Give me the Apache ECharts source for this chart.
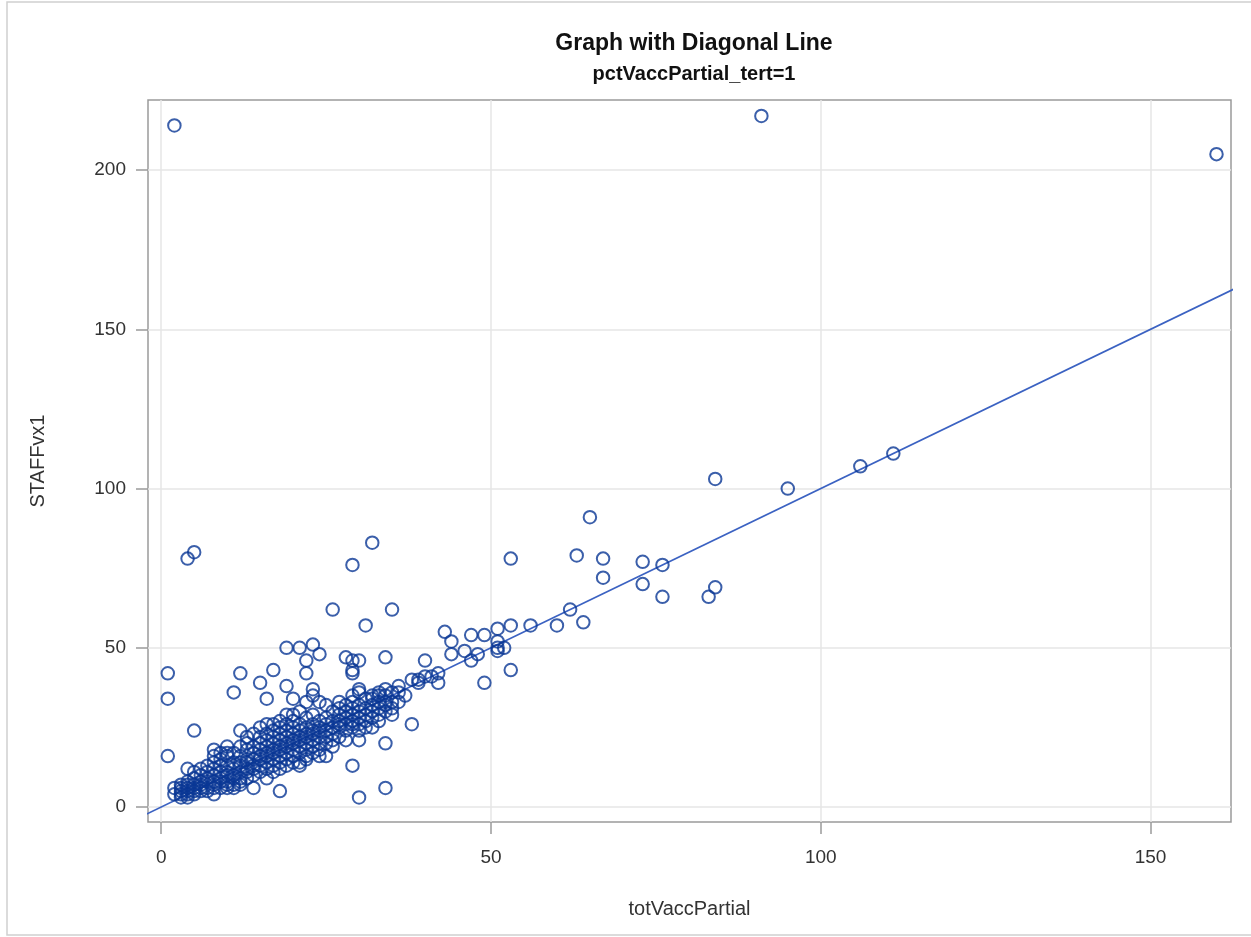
<!DOCTYPE html>
<html>
<head>
<meta charset="utf-8">
<title>Graph with Diagonal Line</title>
<script src="https://cdn.jsdelivr.net/npm/echarts@6/dist/echarts.min.js"></script>
<style>
  html, body { margin: 0; padding: 0; background: #fff; }
  #chart { width: 1251px; height: 937px; }
</style>
</head>
<body>
<div id="chart"></div>
<script>
// Tick values for both axes
const xTicks = [0, 50, 100, 150];
const yTicks = [0, 50, 100, 150, 200];

// Reference diagonal y = x (clipped to the plot area)
const diagonal = [[-10, -10], [180, 180]];

// Facilities far above the diagonal
const highOutliers = [[2, 214], [91, 217], [160, 205]];

// Larger facilities along the upper range
const largeSites = [
  [111, 111], [106, 107], [95, 100], [84, 103], [65, 91], [63, 79], [67, 78], [67, 72],
  [73, 77], [73, 70], [76, 76], [76, 66], [83, 66], [84, 69], [53, 78], [62, 62],
  [64, 58], [60, 57], [56, 57], [53, 57], [53, 43], [49, 39]
];

// Mid-range facilities (roughly 35 to 55 vaccinated)
const midSites = [
  [43, 55], [44, 52], [44, 48], [47, 54], [49, 54], [46, 49], [48, 48], [47, 46],
  [51, 56], [51, 52], [51, 50], [52, 50], [51, 49], [40, 46], [42, 42], [41, 41],
  [39, 40], [38, 40], [42, 39], [40, 41], [36, 36], [38, 26], [39, 39]
];

// Scattered small facilities above and below the band
const smallScatter = [
  [4, 78], [5, 80], [32, 83], [29, 76], [26, 62], [35, 62], [31, 57],
  [19, 50], [21, 50], [23, 51], [24, 48], [22, 46], [22, 42], [28, 47], [29, 46],
  [30, 46], [29, 43], [34, 47], [1, 42], [1, 34], [1, 16], [5, 24], [12, 42],
  [11, 36], [15, 39], [17, 43], [16, 34], [19, 38], [23, 37], [20, 34],
  [34, 37], [30, 37], [29, 35], [34, 20], [30, 21], [29, 13], [34, 6], [30, 3],
  [18, 5], [25, 16], [17, 11], [8, 4], [5, 5], [4, 12], [8, 18], [10, 17], [12, 24],
  [14, 6], [21, 13], [22, 16], [27, 26], [23, 35], [24, 33], [25, 32], [27, 33],
  [22, 28], [20, 29], [19, 29], [16, 26], [17, 26], [29, 42], [32, 35], [33, 36],
  [32, 34], [34, 33], [35, 29], [32, 25], [26, 23], [29, 26], [33, 29], [30, 36]
];

// Dense band of small facilities close to the diagonal
const denseBand = [
  [3, 3], [3, 4], [3, 5], [3, 6], [3, 7], [4, 3], [4, 4], [4, 5], [4, 6], [4, 7], [4, 8],
  [5, 4], [5, 6], [5, 7], [5, 9], [6, 5], [6, 6], [6, 7], [6, 8], [6, 10],
  [7, 5], [7, 6], [7, 8], [7, 9], [7, 11], [7, 13], [8, 6], [8, 7], [8, 8], [8, 10],
  [8, 12], [8, 14], [8, 16], [9, 6], [9, 8], [9, 9], [9, 11], [9, 13], [9, 15],
  [10, 6], [10, 7], [10, 8], [10, 10], [10, 11], [10, 13], [10, 16],
  [11, 6], [11, 7], [11, 9], [11, 10], [11, 12], [11, 14], [11, 17],
  [12, 7], [12, 8], [12, 9], [12, 11], [12, 13], [12, 14], [12, 16],
  [13, 9], [13, 11], [13, 12], [13, 14], [13, 15], [13, 18], [13, 20],
  [14, 10], [14, 12], [14, 13], [14, 15], [14, 17], [14, 19],
  [15, 11], [15, 13], [15, 15], [15, 16], [15, 18], [15, 20], [15, 22], [15, 25],
  [16, 12], [16, 14], [16, 16], [16, 17], [16, 19], [16, 21], [16, 23],
  [17, 13], [17, 15], [17, 17], [17, 18], [17, 20], [17, 22], [17, 24],
  [18, 14], [18, 16], [18, 18], [18, 19], [18, 21], [18, 23], [18, 25], [18, 27],
  [19, 15], [19, 17], [19, 19], [19, 20], [19, 22], [19, 24], [19, 26],
  [20, 16], [20, 18], [20, 20], [20, 21], [20, 23], [20, 25], [20, 27],
  [21, 14], [21, 17], [21, 19], [21, 21], [21, 22], [21, 24], [21, 26], [21, 30],
  [22, 15], [22, 18], [22, 20], [22, 22], [22, 23], [22, 25], [22, 33],
  [23, 17], [23, 19], [23, 21], [23, 23], [23, 24], [23, 26], [23, 29],
  [24, 18], [24, 20], [24, 22], [24, 24], [24, 25], [24, 27],
  [25, 20], [25, 22], [25, 24], [25, 26], [25, 28],
  [26, 21], [26, 25], [26, 27], [26, 30],
  [27, 22], [27, 25], [27, 27], [27, 29], [27, 31],
  [28, 24], [28, 26], [28, 28], [28, 30], [28, 32],
  [29, 25], [29, 27], [29, 29], [29, 31], [29, 33],
  [30, 26], [30, 28], [30, 30], [30, 32], [31, 27], [31, 29], [31, 31], [31, 34],
  [32, 28], [32, 30], [32, 32], [33, 31], [33, 33], [33, 35], [34, 30], [34, 32], [34, 35],
  [35, 33], [2, 4], [2, 6], [5, 11], [6, 12], [9, 17], [10, 19], [12, 19], [13, 22],
  [14, 23], [16, 9], [18, 12], [19, 13], [20, 14], [24, 16], [26, 19], [28, 21],
  [30, 24], [31, 25], [33, 27], [35, 31], [36, 33], [37, 35], [35, 36], [36, 38]
];

const markerColor = '#0a3795';
const lineColor = '#3b62c2';
const axisTextColor = '#333333';
const gridColor = '#e6e6e6';
const frameColor = '#9a9a9a';
const fontFamily = 'Liberation Sans, Arial, sans-serif';

const scatterStyle = {
  type: 'scatter',
  symbol: 'circle',
  symbolSize: 12.5,
  itemStyle: { color: 'rgba(0,0,0,0)', borderColor: markerColor, borderWidth: 2 },
  emphasis: { disabled: true },
  silent: true,
  z: 3
};

const chart = echarts.init(document.getElementById('chart'), null, { renderer: 'canvas' });

chart.setOption({
  animation: false,
  backgroundColor: '#ffffff',
  graphic: [{
    type: 'rect',
    shape: { x: 7, y: 2, width: 1250, height: 933 },
    style: { fill: 'none', stroke: '#d0d0d0', lineWidth: 1.5 },
    silent: true,
    z: -1
  }],
  title: {
    text: 'Graph with Diagonal Line',
    subtext: 'pctVaccPartial_tert=1',
    left: 689,
    textAlign: 'center',
    top: 27,
    itemGap: 9,
    textStyle: { fontFamily: fontFamily, fontSize: 23, fontWeight: 'bold', color: '#111' },
    subtextStyle: { fontFamily: fontFamily, fontSize: 20, fontWeight: 'bold', color: '#111' }
  },
  grid: {
    left: 148, right: 20, top: 100, bottom: 115,
    show: true, borderColor: frameColor, borderWidth: 1.5, backgroundColor: 'transparent'
  },
  xAxis: {
    type: 'value',
    min: -2,
    max: 162.2,
    name: 'totVaccPartial',
    nameLocation: 'middle',
    nameGap: 77,
    nameTextStyle: { fontFamily: fontFamily, fontSize: 20, color: axisTextColor },
    axisLine: { show: false, onZero: false },
    axisTick: { show: true, length: 12, lineStyle: { color: frameColor, width: 1.5 }, customValues: xTicks },
    axisLabel: { customValues: xTicks, margin: 26, fontFamily: fontFamily, fontSize: 19, color: axisTextColor },
    splitLine: { show: true, lineStyle: { color: gridColor, width: 1.5 } }
  },
  yAxis: {
    type: 'value',
    min: -4.7,
    max: 222,
    name: 'STAFFvx1',
    nameLocation: 'middle',
    nameGap: 100,
    nameRotate: 90,
    nameTextStyle: { fontFamily: fontFamily, fontSize: 20, color: axisTextColor },
    axisLine: { show: false, onZero: false },
    axisTick: { show: true, length: 12, lineStyle: { color: frameColor, width: 1.5 }, customValues: yTicks },
    axisLabel: { customValues: yTicks, margin: 22, fontFamily: fontFamily, fontSize: 19, color: axisTextColor },
    splitLine: { show: true, lineStyle: { color: gridColor, width: 1.5 } }
  },
  series: [
    {
      type: 'line',
      data: diagonal,
      showSymbol: false,
      clip: true,
      lineStyle: { color: lineColor, width: 1.6 },
      silent: true,
      z: 2
    },
    Object.assign({ data: denseBand }, scatterStyle),
    Object.assign({ data: smallScatter }, scatterStyle),
    Object.assign({ data: midSites }, scatterStyle),
    Object.assign({ data: largeSites }, scatterStyle),
    Object.assign({ data: highOutliers }, scatterStyle)
  ]
});
</script>
</body>
</html>
